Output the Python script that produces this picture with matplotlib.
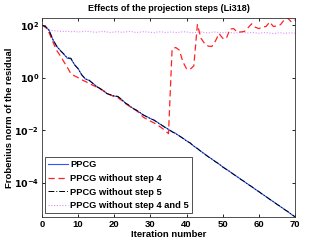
import numpy as np
import matplotlib
matplotlib.use("Agg")
import matplotlib.pyplot as plt
from matplotlib.ticker import FixedLocator, NullLocator

plt.rcParams['font.family'] = ['Liberation Sans', 'DejaVu Sans']
plt.rcParams['font.weight'] = 'bold'
plt.rcParams['mathtext.default'] = 'bf'

# log10 of the Frobenius norm of the residual, iterations 0..70
ppcg = [2.00, 1.95, 1.80, 1.45, 1.20, 1.05, 0.90, 0.74, 0.72, 0.50,
        0.35, 0.10, -0.05, -0.10, -0.20, -0.32, -0.40, -0.50, -0.60, -0.66,
        -0.70, -0.72, -0.82, -0.95, -1.05, -1.15, -1.22, -1.32, -1.42, -1.48,
        -1.55, -1.62, -1.70, -1.80, -1.88, -1.97, -2.05, -2.12, -2.22, -2.30,
        -2.40, -2.49, -2.60, -2.70, -2.80, -2.90, -3.00, -3.10, -3.19, -3.29,
        -3.39, -3.48, -3.58, -3.67, -3.77, -3.86, -3.96, -4.05, -4.15, -4.24,
        -4.34, -4.43, -4.53, -4.62, -4.72, -4.81, -4.91, -5.00, -5.10, -5.20,
        -5.30]
no_step4 = [2.00, 1.93, 1.70, 1.37, 1.05, 0.85, 0.62, 0.40, 0.15, 0.07,
            0.00, -0.08, -0.14, -0.22, -0.28, -0.35, -0.42, -0.50, -0.60, -0.66,
            -0.72, -0.76, -0.86, -0.97, -1.07, -1.16, -1.24, -1.35, -1.50, -1.58,
            -1.65, -1.72, -1.80, -1.90, -2.00, -2.13, 1.10, 1.15, 1.05, 0.60,
            0.34, 0.32, 0.45, 2.02, 1.50, 1.30, 1.20, 1.19, 1.40, 1.68,
            1.50, 1.49, 1.85, 1.87, 1.74, 1.74, 1.76, 1.90, 2.05, 1.92,
            1.87, 1.93, 1.95, 2.12, 1.95, 1.97, 2.02, 2.20, 2.27, 2.12,
            2.20]
no_step5 = [2.00, 1.94, 1.78, 1.46, 1.22, 1.04, 0.91, 0.76, 0.74, 0.49,
            0.34, 0.11, -0.04, -0.09, -0.21, -0.33, -0.41, -0.49, -0.61, -0.65,
            -0.69, -0.71, -0.83, -0.96, -1.04, -1.16, -1.23, -1.31, -1.41, -1.49,
            -1.56, -1.61, -1.71, -1.79, -1.89, -1.96, -2.06, -2.13, -2.21, -2.31,
            -2.41, -2.48, -2.61, -2.69, -2.81, -2.91, -3.01, -3.09, -3.20, -3.28,
            -3.40, -3.49, -3.57, -3.68, -3.76, -3.87, -3.95, -4.06, -4.14, -4.25,
            -4.33, -4.44, -4.52, -4.63, -4.71, -4.82, -4.90, -5.01, -5.09, -5.19,
            -5.29]
no_step45 = [2.00, 1.90, 1.82, 1.79, 1.78, 1.77, 1.76, 1.77, 1.75, 1.76,
             1.74, 1.75, 1.77, 1.76, 1.74, 1.73, 1.75, 1.76, 1.74, 1.72,
             1.74, 1.75, 1.73, 1.74, 1.76, 1.75, 1.72, 1.73, 1.75, 1.74,
             1.73, 1.71, 1.74, 1.75, 1.72, 1.73, 1.74, 1.72, 1.73, 1.75,
             1.74, 1.72, 1.71, 1.73, 1.74, 1.72, 1.70, 1.73, 1.74, 1.72,
             1.71, 1.73, 1.72, 1.70, 1.71, 1.73, 1.72, 1.70, 1.72, 1.71,
             1.69, 1.71, 1.72, 1.70, 1.68, 1.70, 1.71, 1.69, 1.70, 1.71,
             1.69]
labels = ['PPCG', 'PPCG without step 4', 'PPCG without step 5',
          'PPCG without step 4 and 5']
ytick_exp = [2, 0, -2, -4]

series = [ppcg, no_step4, no_step5, no_step45]
for s in series:
    assert len(s) == 71, len(s)
it = np.arange(71)

fig = plt.figure(figsize=(3.27, 2.45), dpi=100)
ax = fig.add_axes([0.1284, 0.1143, 0.7737, 0.812])

styles = [dict(color='#3355ff', ls='-', lw=0.8),
          dict(color='#ff2222', ls=(0, (5, 3)), lw=0.9),
          dict(color='black', ls=(0, (6, 2, 1, 2)), lw=0.7),
          dict(color='#e08cff', ls=(0, (1, 1.5)), lw=0.8)]
# draw the magenta first so the others sit on top
order = [3, 0, 1, 2]
handles = [None] * 4
for i in order:
    h, = ax.plot(it, 10.0 ** np.array(series[i]), label=labels[i], **styles[i])
    handles[i] = h

ax.set_yscale('log')
ax.set_xlim(0, 70)
ymin = min(min(s) for s in series)
ymax = max(max(s) for s in series)
ax.set_ylim(10 ** ymin, 10 ** ymax)
ax.set_xticks(np.arange(0, 71, 10))
ax.yaxis.set_major_locator(FixedLocator([10.0 ** e for e in ytick_exp]))
ax.yaxis.set_minor_locator(NullLocator())
ax.set_yticklabels(['$10^{%d}$' % e for e in ytick_exp])
ax.tick_params(direction='in', length=2.5, width=0.6, labelsize=6.8,
               top=True, right=True, pad=2)
for sp in ax.spines.values():
    sp.set_linewidth(0.6)
    sp.set_color('#333333')

ax.set_title('Effects of the projection steps (Li318)', fontsize=6.5,
             fontweight='bold', pad=5)
ax.set_xlabel('Iteration number', fontsize=6.8, fontweight='bold', labelpad=1)
ax.set_ylabel('Frobenius norm of the residual', fontsize=6.8,
              fontweight='bold')
ax.yaxis.set_label_coords(-0.11, 0.5)

leg = ax.legend(handles=handles, loc='lower left',
                bbox_to_anchor=(0.012, 0.02), borderaxespad=0,
                fontsize=6.7, handlelength=2.2, handletextpad=0.2,
                labelspacing=0.5, borderpad=0.3, fancybox=False,
                framealpha=1)
leg.get_frame().set_edgecolor('#333333')
leg.get_frame().set_linewidth(0.6)

fig.savefig('out.png', dpi=100)
